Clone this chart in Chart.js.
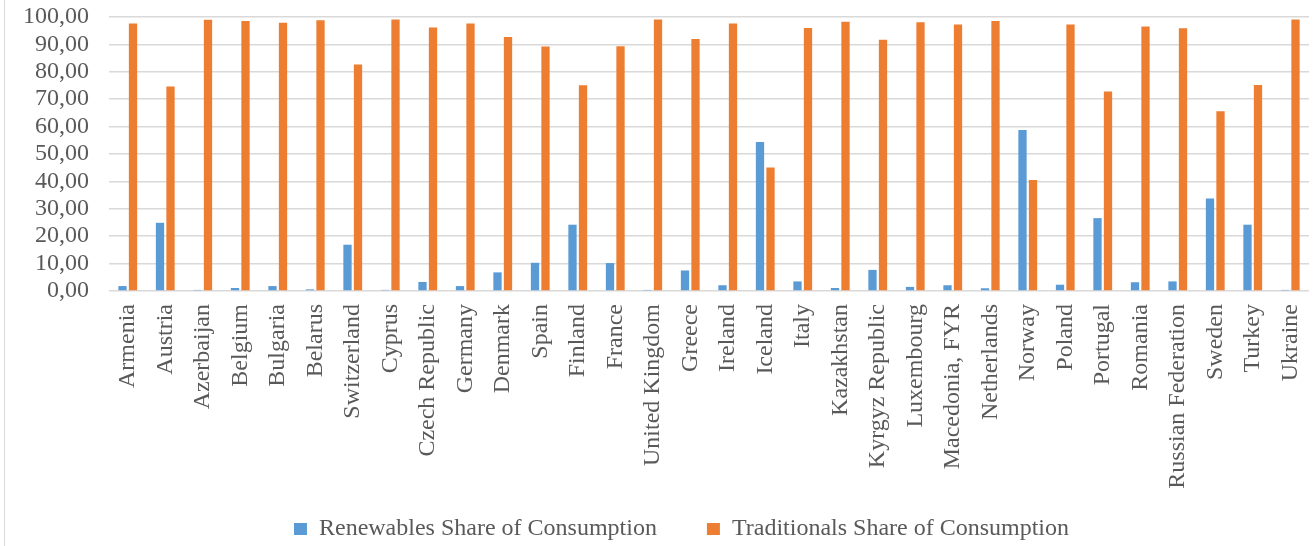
<!DOCTYPE html>
<html lang="en">
<head>
<meta charset="UTF-8">
<title>Renewables vs Traditionals Share of Consumption</title>
<script src="https://cdn.jsdelivr.net/npm/chart.js"></script>
<style>
    body {
        margin: 0;
        background: #ffffff;
        overflow: hidden;
    }
    .wrap {
        position: relative;
        width: 1315px;
        height: 546px;
    }
    /* thin frame line on the left like the original chart box */
    .frame {
        position: absolute;
        left: 4px;
        top: 0;
        width: 0;
        height: 546px;
        border-left: 1px solid #d9d9d9;
    }
</style>
</head>
<body>
<div class="wrap">
    <div class="frame"></div>
    <canvas id="grafico"></canvas>
</div>
<script>
const paises = ['Armenia', 'Austria', 'Azerbaijan', 'Belgium', 'Bulgaria', 'Belarus', 'Switzerland',
    'Cyprus', 'Czech Republic', 'Germany', 'Denmark', 'Spain', 'Finland', 'France', 'United Kingdom',
    'Greece', 'Ireland', 'Iceland', 'Italy', 'Kazakhstan', 'Kyrgyz Republic', 'Luxembourg',
    'Macedonia, FYR', 'Netherlands', 'Norway', 'Poland', 'Portugal', 'Romania', 'Russian Federation',
    'Sweden', 'Turkey', 'Ukraine'];

const renovables = [1.8, 24.9, 0.4, 1.1, 1.8, 0.6, 16.9, 0.4, 3.3, 1.8, 6.8, 10.3, 24.2, 10.2, 0.4,
    7.5, 2.1, 54.4, 3.5, 1.1, 7.7, 1.5, 2.1, 1.0, 58.8, 2.3, 26.6, 3.2, 3.5, 33.8, 24.2, 0.4];

const tradicionales = [97.6, 74.6, 99.0, 98.5, 97.9, 98.8, 82.7, 99.1, 96.2, 97.6, 92.7, 89.2, 75.1, 89.3, 99.1,
    92.0, 97.6, 45.1, 96.0, 98.3, 91.7, 98.1, 97.3, 98.5, 40.5, 97.3, 72.8, 96.5, 95.9, 65.6, 75.2, 99.1];

const ticksY = [0, 10, 20, 30, 40, 50, 60, 70, 80, 90, 100];

const fuente = { family: "'Liberation Serif', 'Times New Roman', serif", size: 24 };
const gris = '#595959';

new Chart(document.getElementById('grafico'), {
    type: 'bar',
    data: {
        labels: paises,
        datasets: [
            {
                label: 'Renewables Share of Consumption',
                data: renovables,
                backgroundColor: '#5b9bd5',
                categoryPercentage: 0.56,
                barPercentage: 0.79
            },
            {
                label: 'Traditionals Share of Consumption',
                data: tradicionales,
                backgroundColor: '#ed7d31',
                categoryPercentage: 0.56,
                barPercentage: 0.79
            }
        ]
    },
    options: {
        responsive: true,
        maintainAspectRatio: false,
        animation: false,
        layout: {
            // derecha negativa: solo corre la leyenda, el area del grafico la fija el eje x
            padding: { left: 0, right: -48, top: 17, bottom: -5 }
        },
        plugins: {
            tooltip: { enabled: false },
            legend: {
                position: 'bottom',
                labels: {
                    color: gris,
                    font: fuente,
                    boxWidth: 13,
                    boxHeight: 12,
                    padding: 8,
                    // espacio extra entre las dos entradas de la leyenda
                    generateLabels: function (chart) {
                        const items = Chart.defaults.plugins.legend.labels.generateLabels(chart);
                        items[0].text = items[0].text + '       ';
                        return items;
                    }
                }
            }
        },
        scales: {
            x: {
                grid: { display: false, drawTicks: false },
                border: { display: false },
                ticks: {
                    color: gris,
                    font: fuente,
                    maxRotation: 90,
                    minRotation: 90,
                    autoSkip: false,
                    padding: 13
                },
                afterFit: function (axis) {
                    axis.height = 218;
                    axis.paddingLeft = 0;
                    axis.paddingRight = 6;
                }
            },
            y: {
                min: 0,
                max: 100,
                afterBuildTicks: function (axis) {
                    axis.ticks = ticksY.map(v => ({ value: v }));
                },
                afterFit: function (axis) {
                    axis.width = 109;
                    axis.paddingTop = 0;
                    axis.paddingBottom = 0;
                },
                grid: {
                    color: '#d9d9d9',
                    lineWidth: 1.5,
                    drawTicks: false
                },
                border: { display: false },
                ticks: {
                    color: gris,
                    font: fuente,
                    padding: 20,
                    autoSkip: false,
                    callback: function (value) {
                        return value.toFixed(2).replace('.', ',');
                    }
                }
            }
        }
    }
});
</script>
</body>
</html>
